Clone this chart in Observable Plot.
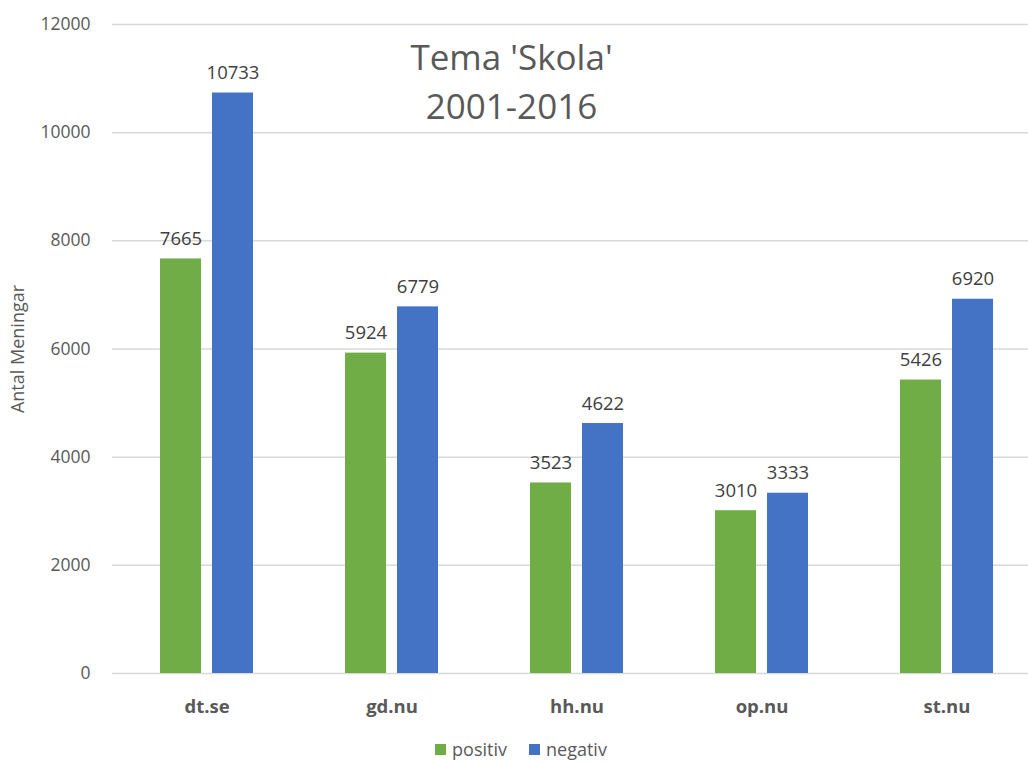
<!DOCTYPE html>
<html>
<head>
<meta charset="utf-8">
<script src="https://cdn.jsdelivr.net/npm/d3@7"></script>
<script src="https://cdn.jsdelivr.net/npm/@observablehq/plot@0.6"></script>
<style>
  html, body { margin: 0; padding: 0; background: #fff; }
  body { width: 1028px; height: 762px; overflow: hidden; font-family: "Open Sans", sans-serif; }
  #chart { position: relative; width: 1028px; }
  #legend { position: absolute; top: 737px; left: 0; width: 1042px; display: flex; justify-content: center; gap: 22px; font-size: 18px; color: #595959; line-height: 24px; }
  .item { display: flex; align-items: center; gap: 6px; }
  .sw { width: 11px; height: 11px; display: inline-block; }
</style>
</head>
<body>
<div id="chart"></div>
<div id="legend"></div>
<script>
const sites = ["dt.se", "gd.nu", "hh.nu", "op.nu", "st.nu"];
const positiv = [7665, 5924, 3523, 3010, 5426];
const negativ = [10733, 6779, 4622, 3333, 6920];
const seriesNames = ["positiv", "negativ"];
const seriesColors = ["#70AD47", "#4472C4"];
const yTicks = [0, 2000, 4000, 6000, 8000, 10000, 12000];
const titleText = "Tema 'Skola'\n2001-2016";
const yLabel = "Antal Meningar";

const posRows = sites.map((s, i) => ({site: s, series: "positiv", value: positiv[i]}));
const negRows = sites.map((s, i) => ({site: s, series: "negativ", value: negativ[i]}));

const barOpts = {insetLeft: 72, insetRight: 72};
const labelStyle = {fontSize: 18.5, fill: "#404040", lineAnchor: "bottom", dy: -14, textAnchor: "middle"};

const chart = Plot.plot({
  width: 1028,
  height: 730,
  marginLeft: 112,
  marginRight: -12,
  marginTop: 24,
  marginBottom: 57,
  style: {fontFamily: "'Open Sans', sans-serif", background: "#fff", overflow: "hidden"},
  x: {domain: sites, padding: 0, label: null},
  y: {domain: [0, 12000], label: null},
  color: {domain: seriesNames, range: seriesColors},
  marks: [
    Plot.gridY(yTicks, {stroke: "#d9d9d9", strokeOpacity: 1, strokeWidth: 1.5}),
    Plot.axisY(yTicks, {tickSize: 0, tickPadding: 22, fontSize: 17.5, fill: "#595959", label: null, tickFormat: d => String(d)}),
    Plot.axisX({tickSize: 0, tickPadding: 26, fontSize: 18.5, fontWeight: "bold", fill: "#595959", label: null}),
    Plot.barY(posRows, {x: "site", y: "value", fill: "series", dx: -26, ...barOpts}),
    Plot.barY(negRows, {x: "site", y: "value", fill: "series", dx: 26, ...barOpts}),
    Plot.text(posRows, {x: "site", y: "value", text: d => String(d.value), dx: -26, ...labelStyle}),
    Plot.text(negRows, {x: "site", y: "value", text: d => String(d.value), dx: 26, ...labelStyle}),
    Plot.text([titleText], {frameAnchor: "top-left", dx: 399, dy: 11, textAnchor: "middle", lineAnchor: "top", fontSize: 35, lineHeight: 1.4, fill: "#595959"}),
    Plot.text([yLabel], {frameAnchor: "left", rotate: -90, dx: -94, textAnchor: "middle", lineAnchor: "middle", fontSize: 18, fill: "#595959"})
  ]
});
document.getElementById("chart").appendChild(chart);

const legend = document.getElementById("legend");
seriesNames.forEach((name, i) => {
  const item = document.createElement("span");
  item.className = "item";
  const sw = document.createElement("span");
  sw.className = "sw";
  sw.style.background = seriesColors[i];
  item.appendChild(sw);
  item.appendChild(document.createTextNode(name));
  legend.appendChild(item);
});
</script>
</body>
</html>
